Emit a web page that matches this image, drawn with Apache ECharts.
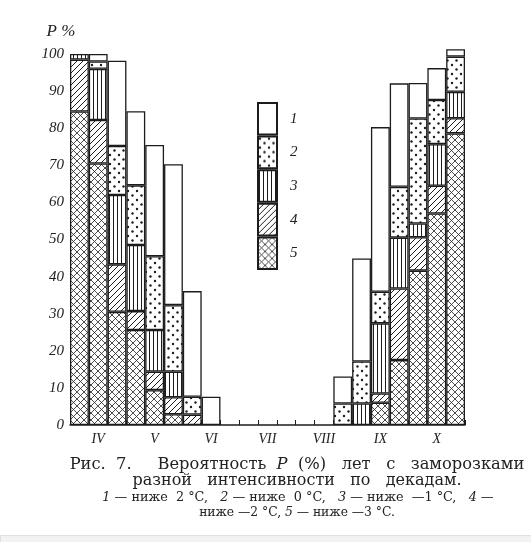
<!DOCTYPE html>
<html><head><meta charset="utf-8">
<script src="https://cdn.jsdelivr.net/npm/echarts@6/dist/echarts.min.js"></script>
<style>html,body{margin:0;padding:0;background:#fff}#c{width:531px;height:542px}</style>
</head><body><div id="c"></div>
<script>
// Months (tick labels) and decades
const months = ['IV', 'V', 'VI', 'VII', 'VIII', 'IX', 'X'];
const decades = ['1', '2', '3'];
const yTicks = [0, 10, 20, 30, 40, 50, 60, 70, 80, 90, 100];
const seriesNames = ['1', '2', '3', '4', '5'];
// Cumulative probability P (%) per decade: 1 — below 2 °C, 2 — below 0 °C, 3 — below -1 °C, 4 — below -2 °C, 5 — below -3 °C
const p1 = [100, 100, 98.2, 84.6, 75.5, 70.3, 36.1, 7.6, 0, 0, 0, 0, 0, 0, 13.1, 44.9, 80.3, 92.1, 92.2, 96.2, 101.3];
const p2 = [100, 98.0, 75.2, 64.6, 45.5, 32.3, 7.6, 0, 0, 0, 0, 0, 0, 0, 5.8, 17.1, 35.9, 64.2, 82.6, 87.6, 99.3];
const p3 = [100, 96.0, 62.0, 48.5, 25.6, 14.4, 2.8, 0, 0, 0, 0, 0, 0, 0, 0, 5.8, 27.4, 50.5, 54.3, 75.7, 89.8];
const p4 = [98.5, 82.2, 43.3, 30.7, 14.4, 7.5, 2.8, 0, 0, 0, 0, 0, 0, 0, 0, 0, 8.5, 36.8, 50.6, 64.5, 82.7];
const p5 = [84.5, 70.5, 30.5, 25.6, 9.4, 2.9, 0, 0, 0, 0, 0, 0, 0, 0, 0, 0, 6.0, 17.5, 41.6, 57.0, 78.6];

const categories = months.flatMap(m => decades.map(d => m + '-' + d));
const cum = [p1, p2, p3, p4, p5];
function seg(i) { // segment of category i+1 between its value and the next lower category
  const upper = cum[i], lower = cum[i + 1];
  return upper.map((v, k) => {
    const d = Math.round((v - (lower ? lower[k] : 0)) * 10) / 10;
    return d > 0 ? d : null;
  });
}

const INK = '#1c1c1c';
function pat(w, h, color, draw) {
  const c = document.createElement('canvas');
  c.width = w; c.height = h;
  const g = c.getContext('2d');
  g.fillStyle = '#fff'; g.fillRect(0, 0, w, h);
  g.strokeStyle = color; g.fillStyle = color;
  draw(g, w, h);
  return { image: c, repeat: 'repeat' };
}
function line(g, x1, y1, x2, y2) { g.beginPath(); g.moveTo(x1, y1); g.lineTo(x2, y2); g.stroke(); }
const fills = {
  '1': '#ffffff',
  '2': pat(9, 9, INK, g => { [[2, 2], [6.5, 6.5]].forEach(([x, y]) => { g.beginPath(); g.arc(x, y, 1.2, 0, Math.PI * 2); g.fill(); }); }),
  '3': pat(4, 4, INK, g => { g.lineWidth = 1; line(g, 1.5, 0, 1.5, 4); }),
  '4': pat(6, 6, INK, g => { g.lineWidth = 1; line(g, -1, 7, 7, -1); line(g, -4, 4, 4, -4); line(g, 2, 10, 10, 2); }),
  '5': pat(7, 7, '#2a2a2a', g => { g.lineWidth = 0.85; line(g, -1, 8, 8, -1); line(g, -4.5, 4.5, 4.5, -4.5); line(g, 2.5, 11.5, 11.5, 2.5);
                                          line(g, -1, -1, 8, 8); line(g, -4.5, 2.5, 4.5, 11.5); line(g, 2.5, -4.5, 11.5, 4.5); })
};

// stack from bottom: 5, 4, 3, 2, 1
const series = [4, 3, 2, 1, 0].map(i => ({
  name: seriesNames[i],
  type: 'bar',
  stack: 'p',
  data: seg(i),
  barCategoryGap: '0%',
  itemStyle: { color: fills[seriesNames[i]], borderColor: INK, borderWidth: 1.3 },
  emphasis: { disabled: true }
}));

const chart = echarts.init(document.getElementById('c'), null, { renderer: 'canvas' });
const serif = '"Liberation Serif", "DejaVu Serif", serif';
const dv = '"DejaVu Serif", serif';
chart.setOption({
  animation: false,
  backgroundColor: '#fff',
  grid: { left: 70, right: 66, top: 46.6, bottom: 117, containLabel: false },
  legend: {
    data: seriesNames,
    orient: 'vertical',
    left: 257, top: 102, padding: 0,
    itemWidth: 19, itemHeight: 31.6, itemGap: 0,
    icon: 'rect',
    selectedMode: false,
    textStyle: { fontFamily: serif, fontStyle: 'italic', fontSize: 15, color: '#222', padding: [0, 0, 0, 8] }
  },
  xAxis: {
    type: 'category',
    data: categories,
    axisLine: { lineStyle: { color: INK, width: 1.5 } },
    axisTick: { show: true, inside: true, length: 5, interval: 0, lineStyle: { color: INK } },
    axisLabel: {
      interval: 0, margin: 7,
      formatter: (v, i) => (i % 3 === 1 ? v.split('-')[0] : ''),
      fontFamily: serif, fontStyle: 'italic', fontSize: 14, color: '#222'
    },
    splitLine: { show: false }
  },
  yAxis: {
    type: 'value', min: 0, max: 102, interval: 10,
    name: 'P %', nameLocation: 'end', nameGap: 7,
    nameTextStyle: { fontFamily: serif, fontStyle: 'italic', fontSize: 17, color: '#222', padding: [0, 18, 0, 0] },
    axisLine: { show: false }, axisTick: { show: false }, splitLine: { show: false },
    axisLabel: {
      margin: 6,
      formatter: v => (yTicks.indexOf(v) >= 0 ? String(v) : ''),
      fontFamily: serif, fontStyle: 'italic', fontSize: 15, color: '#222'
    }
  },
  series: series,
  graphic: [
    { type: 'rect', left: 0, top: 535, shape: { width: 531, height: 7 }, style: { fill: '#f2f2f2', stroke: '#e0e0e0', lineWidth: 1 }, silent: true },
    { type: 'text', x: 297, y: 465, style: {
      text: 'Рис.  7.     Вероятность  {i|P}  (%)   лет   с   заморозками',
      font: '16.3px ' + dv, fill: '#222', textAlign: 'center', textVerticalAlign: 'middle',
      rich: { i: { fontStyle: 'italic', fontFamily: 'DejaVu Serif', fontSize: 16.3 } } } },
    { type: 'text', x: 297, y: 481, style: {
      text: 'разной   интенсивности   по   декадам.',
      font: '16px ' + dv, fill: '#222', textAlign: 'center', textVerticalAlign: 'middle' } },
    { type: 'text', x: 298, y: 498, style: {
      text: '{i|1} — ниже  2 °C,   {i|2} — ниже  0 °C,   {i|3} — ниже  —1 °C,   {i|4} —',
      font: '12.8px ' + dv, fill: '#222', textAlign: 'center', textVerticalAlign: 'middle',
      rich: { i: { fontStyle: 'italic', fontFamily: 'DejaVu Serif', fontSize: 12.8 } } } },
    { type: 'text', x: 297, y: 513, style: {
      text: 'ниже —2 °C, {i|5} — ниже —3 °C.',
      font: '12.3px ' + dv, fill: '#222', textAlign: 'center', textVerticalAlign: 'middle',
      rich: { i: { fontStyle: 'italic', fontFamily: 'DejaVu Serif', fontSize: 12.3 } } } }
  ]
});
</script></body></html>
